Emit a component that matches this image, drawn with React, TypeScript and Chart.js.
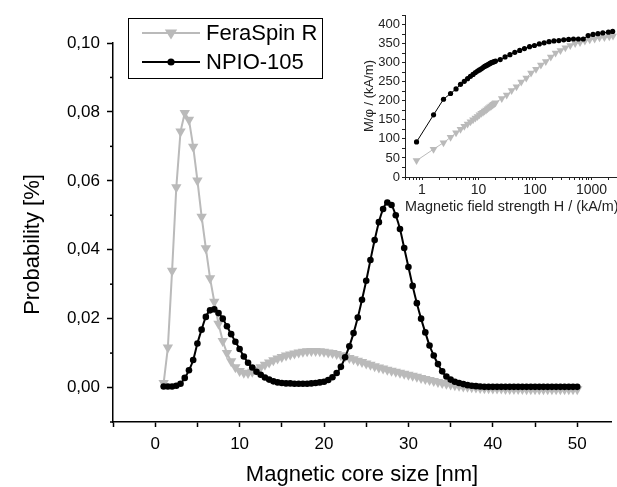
import React, { useEffect, useRef } from 'react';
import { Chart, registerables } from 'chart.js';

Chart.register(...registerables);

const FONT = "'Liberation Sans', Arial, Helvetica, sans-serif";

// ---------- main plot data ----------
const coreSizeNm = [
  1.0, 1.5, 2.0, 2.5, 3.0, 3.5, 4.0, 4.5, 5.0, 5.5,
  6.0, 6.5, 7.0, 7.5, 8.0, 8.5, 9.0, 9.5, 10.0, 10.5,
  11.0, 11.5, 12.0, 12.5, 13.0, 13.5, 14.0, 14.5, 15.0, 15.5,
  16.0, 16.5, 17.0, 17.5, 18.0, 18.5, 19.0, 19.5, 20.0, 20.5,
  21.0, 21.5, 22.0, 22.5, 23.0, 23.5, 24.0, 24.5, 25.0, 25.5,
  26.0, 26.5, 27.0, 27.5, 28.0, 28.5, 29.0, 29.5, 30.0, 30.5,
  31.0, 31.5, 32.0, 32.5, 33.0, 33.5, 34.0, 34.5, 35.0, 35.5,
  36.0, 36.5, 37.0, 37.5, 38.0, 38.5, 39.0, 39.5, 40.0, 40.5,
  41.0, 41.5, 42.0, 42.5, 43.0, 43.5, 44.0, 44.5, 45.0, 45.5,
  46.0, 46.5, 47.0, 47.5, 48.0, 48.5, 49.0, 49.5, 50.0,
];

const feraSpinR = [
  0.0013, 0.0116, 0.0339, 0.0581, 0.0743, 0.0797, 0.0777, 0.0699, 0.0601, 0.0496,
  0.0404, 0.0317, 0.0249, 0.0185, 0.0135, 0.0100, 0.0076, 0.0059, 0.0048, 0.0043,
  0.0042, 0.0046, 0.0052, 0.0059, 0.0066, 0.0073, 0.0079, 0.0084, 0.0089, 0.0093,
  0.0096, 0.0099, 0.0102, 0.0104, 0.0105, 0.0106, 0.0106, 0.0105, 0.0104, 0.0102,
  0.0100, 0.0097, 0.0094, 0.0090, 0.0086, 0.0082, 0.0078, 0.0074, 0.0070, 0.0066,
  0.0062, 0.0058, 0.0055, 0.0052, 0.0049, 0.0046, 0.0043, 0.0040, 0.0037, 0.0034,
  0.0031, 0.0028, 0.0025, 0.0022, 0.0019, 0.0016, 0.0013, 0.0011, 0.0009, 0.0007,
  0.0005, 0.0003, 0.0002, 0.0001, 0.0000, -0.0001, -0.0002, -0.0002, -0.0003, -0.0003,
  -0.0003, -0.0004, -0.0004, -0.0004, -0.0004, -0.0004, -0.0005, -0.0005, -0.0005, -0.0005,
  -0.0005, -0.0005, -0.0005, -0.0005, -0.0005, -0.0005, -0.0005, -0.0005, -0.0005,
];

const npio105 = [
  0.0003, 0.0003, 0.0003, 0.0005, 0.0011, 0.0028, 0.0050, 0.0080, 0.0128, 0.0168,
  0.0205, 0.0224, 0.0227, 0.0216, 0.0200, 0.0178, 0.0155, 0.0133, 0.0112, 0.0090,
  0.0072, 0.0058, 0.0046, 0.0037, 0.0029, 0.0023, 0.0018, 0.0015, 0.0013, 0.0012,
  0.0012, 0.0011, 0.0011, 0.0011, 0.0011, 0.0012, 0.0013, 0.0015, 0.0017, 0.0022,
  0.0030, 0.0042, 0.0060, 0.0088, 0.0120, 0.0158, 0.0203, 0.0255, 0.0310, 0.0370,
  0.0428, 0.0480, 0.0518, 0.0537, 0.0530, 0.0500, 0.0460, 0.0405, 0.0350, 0.0295,
  0.0245, 0.0200, 0.0160, 0.0122, 0.0093, 0.0068, 0.0047, 0.0032, 0.0023, 0.0017,
  0.0013, 0.0010, 0.0007, 0.0005, 0.0004, 0.0003, 0.0002, 0.0002, 0.0002, 0.0002,
  0.0002, 0.0002, 0.0002, 0.0002, 0.0002, 0.0002, 0.0002, 0.0002, 0.0002, 0.0002,
  0.0002, 0.0002, 0.0002, 0.0002, 0.0002, 0.0002, 0.0002, 0.0002, 0.0002,
];

const xMajorTicks = [0, 10, 20, 30, 40, 50];
const yMajorTicks = [0, 0.02, 0.04, 0.06, 0.08, 0.1];
const yTitle = 'Probability [%]';

// ---------- inset data ----------
const fieldNpio = [
  0.8, 1.6, 2.4, 3.2, 4.0, 4.8, 5.6, 6.4, 7.2, 8.0, 8.8, 9.6, 10.4, 11.2, 12.0, 12.8,
  13.6, 14.4, 15.2, 16.0, 16.8, 17.6, 18.4, 19.2, 20.0,
  24.2, 29.5, 36, 43.9, 53.6, 65, 80, 97.6, 119, 145, 177, 216, 264, 322, 393, 479,
  585, 714, 871, 1063, 1297, 1583, 1988, 2363,
];
const magNpio = [
  92, 163, 204, 219, 231, 243, 251, 258, 264, 269, 274, 278, 281, 284, 287, 290,
  292, 294, 296, 298, 300, 301, 302, 303, 304,
  308, 315, 321, 327, 332, 337, 342, 345, 349, 352, 355, 357, 358, 360, 361, 362,
  362, 362, 371, 374, 376, 378, 380, 382,
];
const fieldFera = [
  0.8, 1.6, 2.4, 3.2, 4.0, 4.8, 5.6, 6.4, 7.2, 8.0, 8.8, 9.6, 10.4, 11.2, 12.0, 12.8,
  13.6, 14.4, 15.2, 16.0, 16.8, 17.6, 18.4, 19.2, 20.0,
  25.8, 31.5, 38.5, 47, 57, 70, 85, 104, 127, 155, 190, 231, 282, 344, 420, 513,
  626, 763, 930, 1135, 1385, 1690, 2062, 2400,
];
const magFera = [
  43, 73, 90, 104, 116, 125, 133, 139, 145, 150, 155, 159, 163, 167, 170, 173,
  176, 179, 182, 184, 186, 189, 191, 193, 195,
  206, 215, 227, 237, 249, 260, 273, 283, 294, 303, 315, 325, 332, 339, 345, 350,
  353, 357, 360, 362, 365, 366, 368, 370,
];
const insetXMajor = [1, 10, 100, 1000];
const insetYMajor = [0, 50, 100, 150, 200, 250, 300, 350, 400];

const GRAY = '#bababa';
const BLACK = '#000000';

const isMajorY = (v: number) => yMajorTicks.some((t) => Math.abs(t - v) < 1e-7);

function drawMarker(ctx: CanvasRenderingContext2D, style: string, x: number, y: number, r: number, color: string) {
  ctx.save();
  ctx.fillStyle = color;
  ctx.beginPath();
  if (style === 'triangle') {
    ctx.moveTo(x - r * 0.95, y - r * 0.55);
    ctx.lineTo(x + r * 0.95, y - r * 0.55);
    ctx.lineTo(x, y + r * 1.0);
    ctx.closePath();
  } else {
    ctx.arc(x, y, r, 0, Math.PI * 2);
  }
  ctx.fill();
  ctx.restore();
}

const mainDecor = {
  id: 'mainDecor',
  afterDraw(chart: any) {
    const ctx: CanvasRenderingContext2D = chart.ctx;
    const ys = chart.scales.y;
    // minor y ticks (shorter)
    ctx.save();
    ctx.strokeStyle = BLACK;
    ctx.lineWidth = 1.5;
    ys.ticks.forEach((t: any) => {
      if (isMajorY(t.value)) return;
      const py = ys.getPixelForValue(t.value);
      ctx.beginPath();
      ctx.moveTo(ys.right - 3, py);
      ctx.lineTo(ys.right, py);
      ctx.stroke();
    });
    ctx.restore();

    // y axis title (placed slightly below the axis centre as in the original)
    ctx.save();
    ctx.translate(33, (ys.top + ys.bottom) / 2 + 12);
    ctx.rotate(-Math.PI / 2);
    ctx.font = `22px ${FONT}`;
    ctx.fillStyle = BLACK;
    ctx.textAlign = 'center';
    ctx.textBaseline = 'middle';
    ctx.fillText(yTitle, 0, 0);
    ctx.restore();

    // legend box
    const bx = 128, by = 18, bw = 194, bh = 60;
    ctx.save();
    ctx.strokeStyle = BLACK;
    ctx.lineWidth = 1;
    ctx.strokeRect(bx + 0.5, by + 0.5, bw, bh);
    ctx.font = `22px ${FONT}`;
    ctx.textBaseline = 'middle';
    ctx.textAlign = 'left';
    chart.data.datasets.forEach((ds: any, i: number) => {
      const cy = by + 15 + i * 29;
      ctx.strokeStyle = ds.borderColor;
      ctx.lineWidth = 2;
      ctx.beginPath();
      ctx.moveTo(142, cy);
      ctx.lineTo(200, cy);
      ctx.stroke();
      drawMarker(ctx, ds.pointStyle, 171, cy, ds.pointStyle === 'triangle' ? 6.5 : 3.6, ds.borderColor);
      ctx.fillStyle = BLACK;
      ctx.fillText(ds.label, 206, cy + 1);
    });
    ctx.restore();
  },
};

export default function App() {
  const mainRef = useRef<HTMLCanvasElement | null>(null);
  const insetRef = useRef<HTMLCanvasElement | null>(null);

  useEffect(() => {
    document.body.style.margin = '0';
    const mainChart = new Chart(mainRef.current as HTMLCanvasElement, {
      type: 'line',
      data: {
        datasets: [
          {
            label: 'FeraSpin R',
            data: coreSizeNm.map((x, i) => ({ x, y: feraSpinR[i] })),
            borderColor: GRAY,
            backgroundColor: GRAY,
            borderWidth: 2,
            pointStyle: 'triangle',
            rotation: 180,
            pointRadius: 6,
            pointBorderWidth: 0,
            order: 2,
          },
          {
            label: 'NPIO-105',
            data: coreSizeNm.map((x, i) => ({ x, y: npio105[i] })),
            borderColor: BLACK,
            backgroundColor: BLACK,
            borderWidth: 2,
            pointStyle: 'circle',
            pointRadius: 3.3,
            pointBorderWidth: 0,
            cubicInterpolationMode: 'monotone',
            order: 1,
          },
        ],
      },
      options: {
        animation: false,
        responsive: false,
        events: [],
        layout: { padding: { left: 0, right: 0, top: 43, bottom: 0 } },
        plugins: { legend: { display: false }, tooltip: { enabled: false } },
        scales: {
          x: {
            type: 'linear',
            min: -5,
            max: 54,
            afterFit: (s: any) => { s.height = 65; },
            afterBuildTicks: (s: any) => {
              s.ticks = s.ticks.filter((t: any) => Math.abs(t.value / 5 - Math.round(t.value / 5)) < 1e-6);
            },
            ticks: {
              stepSize: 5,
              autoSkip: false,
              maxRotation: 0,
              padding: 7,
              color: BLACK,
              font: { family: FONT, size: 17 },
              callback: (v: any) => (xMajorTicks.includes(Number(v)) ? String(v) : ''),
            },
            grid: { drawOnChartArea: false, drawTicks: true, tickLength: 5, tickColor: BLACK, tickWidth: 1.5 },
            border: { display: true, color: BLACK, width: 1.5 },
            title: {
              display: true,
              text: 'Magnetic core size [nm]',
              color: BLACK,
              font: { family: FONT, size: 22, lineHeight: 1.1 },
              padding: { top: 0, bottom: 0 },
            },
          },
          y: {
            type: 'linear',
            min: -0.01,
            max: 0.1,
            afterFit: (s: any) => { s.width = 113; },
            ticks: {
              stepSize: 0.01,
              autoSkip: false,
              padding: 7,
              color: BLACK,
              font: { family: FONT, size: 17 },
              callback: (v: any) => (isMajorY(Number(v)) ? Number(v).toFixed(2).replace('.', ',') : ''),
            },
            grid: {
              drawOnChartArea: false,
              drawTicks: true,
              tickLength: 6,
              tickWidth: 1.5,
              tickColor: (c: any) => (c.tick && isMajorY(c.tick.value) ? BLACK : 'rgba(0,0,0,0)'),
            },
            border: { display: true, color: BLACK, width: 1.5 },
            title: { display: false },
          },
        },
      } as any,
      plugins: [mainDecor],
    });

    const insetMinor: number[] = [];
    for (let e = -1; e <= 3; e++) {
      for (let m = 1; m <= 9; m++) {
        const v = Number((m * Math.pow(10, e)).toPrecision(6));
        if (v >= 0.5 && v <= 3000) insetMinor.push(v);
      }
    }

    const insetChart = new Chart(insetRef.current as HTMLCanvasElement, {
      type: 'line',
      data: {
        datasets: [
          {
            label: 'FeraSpin R',
            data: fieldFera.map((x, i) => ({ x, y: magFera[i] })),
            borderColor: GRAY,
            backgroundColor: GRAY,
            borderWidth: 1,
            pointStyle: 'triangle',
            rotation: 180,
            pointRadius: 4.5,
            pointBorderWidth: 0,
            order: 2,
          },
          {
            label: 'NPIO-105',
            data: fieldNpio.map((x, i) => ({ x, y: magNpio[i] })),
            borderColor: BLACK,
            backgroundColor: BLACK,
            borderWidth: 1,
            pointStyle: 'circle',
            pointRadius: 2.6,
            pointBorderWidth: 0,
            order: 1,
          },
        ],
      },
      options: {
        animation: false,
        responsive: false,
        events: [],
        layout: { padding: { left: 0, right: 0, top: 15, bottom: 0 } },
        plugins: { legend: { display: false }, tooltip: { enabled: false } },
        scales: {
          x: {
            type: 'logarithmic',
            min: 0.5,
            max: 3000,
            afterFit: (s: any) => { s.height = 43; },
            afterBuildTicks: (s: any) => {
              s.ticks = insetMinor.map((v) => ({ value: v }));
            },
            ticks: {
              autoSkip: false,
              maxRotation: 0,
              padding: 2,
              color: '#222',
              font: { family: FONT, size: 14 },
              callback: (v: any) => (insetXMajor.includes(Number(v)) ? String(v) : ''),
            },
            grid: { drawOnChartArea: false, drawTicks: true, tickLength: 3, tickColor: '#222', tickWidth: 1 },
            border: { display: true, color: '#222', width: 1 },
            title: {
              display: true,
              text: 'Magnetic field strength H / (kA/m)',
              color: '#222',
              font: { family: FONT, size: 14.5, lineHeight: 1.1 },
              padding: { top: 0, bottom: 5 },
            },
          },
          y: {
            type: 'linear',
            min: 0,
            max: 425,
            afterFit: (s: any) => { s.width = 50; },
            ticks: {
              stepSize: 25,
              autoSkip: false,
              padding: 2,
              color: '#222',
              font: { family: FONT, size: 13 },
              callback: (v: any) => (insetYMajor.includes(Number(v)) ? String(v) : ''),
            },
            grid: { drawOnChartArea: false, drawTicks: true, tickLength: 3, tickColor: '#222', tickWidth: 1 },
            border: { display: true, color: '#222', width: 1 },
            title: {
              display: true,
              text: 'M/\u03C6 / (kA/m)',
              color: '#222',
              font: { family: FONT, size: 13, lineHeight: 1.1 },
              padding: { top: 7, bottom: 0 },
            },
          },
        },
      } as any,
    });

    return () => {
      mainChart.destroy();
      insetChart.destroy();
    };
  }, []);

  return (
    <div style={{ position: 'relative', width: 617, height: 487, overflow: 'hidden', background: '#fff' }}>
      <canvas ref={mainRef} width={617} height={487} style={{ position: 'absolute', left: 0, top: 0 }} />
      <canvas ref={insetRef} width={268} height={220} style={{ position: 'absolute', left: 355, top: 0 }} />
    </div>
  );
}
